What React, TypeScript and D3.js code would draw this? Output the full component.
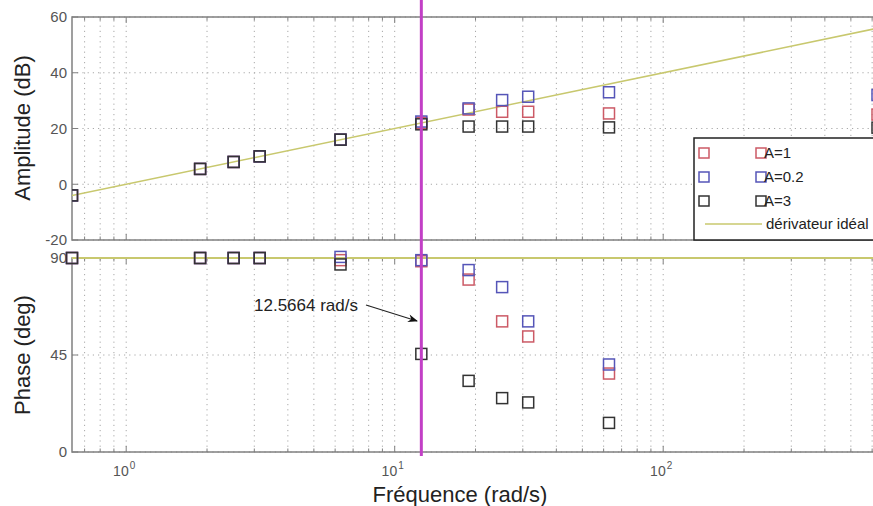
import React from "react";
import * as d3 from "d3";

// ---- data ----
const freqs = [0.6283, 1.885, 2.513, 3.142, 6.283, 12.566, 18.85, 25.13, 31.42, 62.83, 628.3];
const ampA1 = [-4, 5.5, 8, 10, 16, 22, 26.8, 26, 26, 25.4, 25];
const ampA02 = [-4, 5.5, 8, 10, 16, 22.5, 27.2, 30.2, 31.4, 33, 32];
const ampA3 = [-4, 5.5, 8, 10, 16, 21.5, 20.7, 20.7, 20.7, 20.4, 20.3];
const phaseA1 = [90, 90, 90, 90, 89, 88.5, 80, 60.6, 53.6, 36.4];
const phaseA02 = [90, 90, 90, 90, 90.5, 89, 84.4, 76.5, 60.6, 40.6];
const phaseA3 = [90, 90, 90, 90, 87, 45.5, 33, 25, 23, 13.5];
const ampTicks = [-20, 0, 20, 40, 60];
const phaseTicks = [0, 45, 90];
const decadeTicks = [1, 10, 100];
const decadeLabels = ["0", "1", "2"];
const cutoff = 12.5664;
const seriesNames = ["A=1", "A=0.2", "A=3"];
const seriesColors = ["#cc5a66", "#5555b8", "#333333"];

const FONT = "Liberation Sans, Arial, sans-serif";
const W = 873;
const H = 506;

export default function App() {
  const x = d3.scaleLog().domain([0.6283, 628.3]).range([72, 877.5]);
  const yA = d3.scaleLinear().domain([-20, 60]).range([240, 17]);
  const yP = d3.scaleLinear().domain([0, 90]).range([452, 258]);

  const minorTicks: number[] = [];
  [0.1, 1, 10, 100].forEach((d) => {
    for (let k = 1; k <= 9; k++) {
      const v = d * k;
      if (v >= 0.6283 && v <= 628.3) minorTicks.push(v);
    }
  });

  const ampSeries = [ampA1, ampA02, ampA3];
  const phaseSeries = [phaseA1, phaseA02, phaseA3];

  const idealLine = d3
    .line<number>()
    .x((w) => x(w))
    .y((w) => yA(20 * Math.log10(w)));
  const idealPts = [0.6283, 628.3];

  const gridStyle = { stroke: "#a8a8a8", strokeWidth: 1, strokeDasharray: "1.2,4" };
  const axisColor = "#808080";
  const tickColor = "#555";
  const S = 11;

  const panel = (
    y: d3.ScaleLinear<number, number>,
    yTicks: number[],
    key: string
  ) => {
    const [y0, y1] = y.range();
    return (
      <g key={key}>
        {minorTicks.map((t, i) => (
          <line key={"gx" + i} x1={x(t)} x2={x(t)} y1={y0} y2={y1} {...gridStyle} />
        ))}
        {yTicks.map((t, i) => (
          <line key={"gy" + i} x1={72} x2={W + 5} y1={y(t)} y2={y(t)} {...gridStyle} />
        ))}
        {minorTicks.map((t, i) => {
          const major = decadeTicks.includes(t);
          const len = major ? 6 : 3.5;
          return (
            <g key={"tx" + i}>
              <line x1={x(t)} x2={x(t)} y1={y0} y2={y0 - len} stroke={axisColor} strokeWidth={1} />
              <line x1={x(t)} x2={x(t)} y1={y1} y2={y1 + len} stroke={axisColor} strokeWidth={1} />
            </g>
          );
        })}
        {yTicks.map((t, i) => (
          <g key={"ty" + i}>
            <line x1={72} x2={78} y1={y(t)} y2={y(t)} stroke={axisColor} strokeWidth={1} />
            <text
              x={67}
              y={y(t)}
              dy="0.35em"
              textAnchor="end"
              fontFamily={FONT}
              fontSize={15}
              fill={tickColor}
            >
              {t}
            </text>
          </g>
        ))}
        <rect x={72} y={y1} width={W + 10 - 72} height={y0 - y1} fill="none" stroke={axisColor} strokeWidth={1.5} />
      </g>
    );
  };

  return (
    <svg
      width={W}
      height={H}
      style={{ position: "absolute", left: 0, top: 0, background: "#fff" }}
    >
      <rect x={0} y={0} width={W} height={H} fill="#fff" />
      <defs>
        <clipPath id="clipA">
          <rect x={72} y={17} width={W} height={223} />
        </clipPath>
        <marker id="arrow" viewBox="0 0 10 10" refX="9" refY="5" markerWidth="13" markerHeight="10" orient="auto" markerUnits="userSpaceOnUse">
          <path d="M0,1 L10,5 L0,9 L3,5 Z" fill="#111" />
        </marker>
      </defs>

      {panel(yA, ampTicks, "amp")}
      {panel(yP, phaseTicks, "phase")}

      {/* ideal derivative */}
      <path d={idealLine(idealPts) || ""} fill="none" stroke="#c8c86e" strokeWidth={1.6} clipPath="url(#clipA)" />
      <line x1={72} x2={W + 5} y1={yP(90)} y2={yP(90)} stroke="#c8c86e" strokeWidth={2.2} />

      {/* amplitude markers */}
      <g clipPath="url(#clipA)">
        {ampSeries.map((s, si) =>
          s.map((v, i) => (
            <rect
              key={`a${si}-${i}`}
              x={x(freqs[i]) - S / 2}
              y={yA(v) - S / 2}
              width={S}
              height={S}
              fill="none"
              stroke={seriesColors[si]}
              strokeWidth={1.5}
            />
          ))
        )}
      </g>
      {/* phase markers */}
      <g>
        {phaseSeries.map((s, si) =>
          s.map((v, i) => (
            <rect
              key={`p${si}-${i}`}
              x={x(freqs[i]) - S / 2}
              y={yP(v) - S / 2}
              width={S}
              height={S}
              fill="none"
              stroke={seriesColors[si]}
              strokeWidth={1.5}
            />
          ))
        )}
      </g>

      {/* cutoff line */}
      <line x1={x(cutoff)} x2={x(cutoff)} y1={0} y2={456} stroke="#c23fc6" strokeWidth={3} />

      {/* annotation */}
      <text x={254} y={311} fontFamily={FONT} fontSize={17} fill="#222">
        12.5664 rad/s
      </text>
      <line x1={366} x2={417} y1={305} y2={321} stroke="#222" strokeWidth={1.2} markerEnd="url(#arrow)" />

      {/* legend */}
      <rect x={694} y={138} width={W} height={102} fill="#fff" stroke="#222" strokeWidth={1.5} />
      {seriesNames.map((n, i) => {
        const ly = 153 + i * 24;
        return (
          <g key={"lg" + i}>
            <rect x={704 - 5} y={ly - 5} width={10} height={10} fill="none" stroke={seriesColors[i]} strokeWidth={1.5} />
            <rect x={761 - 5} y={ly - 5} width={10} height={10} fill="none" stroke={seriesColors[i]} strokeWidth={1.5} />
            <text x={764} y={ly} dy="0.35em" fontFamily={FONT} fontSize={15} fill="#222">
              {n}
            </text>
          </g>
        );
      })}
      <line x1={705} x2={762} y1={224} y2={224} stroke="#c8c86e" strokeWidth={1.6} />
      <text x={766} y={224} dy="0.35em" fontFamily={FONT} fontSize={15} fill="#222">
        dérivateur idéal
      </text>

      {/* x tick labels */}
      {decadeTicks.map((t, i) => (
        <text key={"xl" + i} x={x(t) - 2} y={476} textAnchor="middle" fontFamily={FONT} fontSize={14} fill={tickColor}>
          10
          <tspan dx={1} dy={-7} fontSize={10}>
            {decadeLabels[i]}
          </tspan>
        </text>
      ))}

      {/* axis labels */}
      <text x={460} y={502} textAnchor="middle" fontFamily={FONT} fontSize={22} fill="#222">
        Fréquence (rad/s)
      </text>
      <text
        transform="translate(30,128) rotate(-90)"
        textAnchor="middle"
        fontFamily={FONT}
        fontSize={22}
        fill="#222"
      >
        Amplitude (dB)
      </text>
      <text
        transform="translate(30,355) rotate(-90)"
        textAnchor="middle"
        fontFamily={FONT}
        fontSize={22}
        fill="#222"
      >
        Phase (deg)
      </text>
    </svg>
  );
}
